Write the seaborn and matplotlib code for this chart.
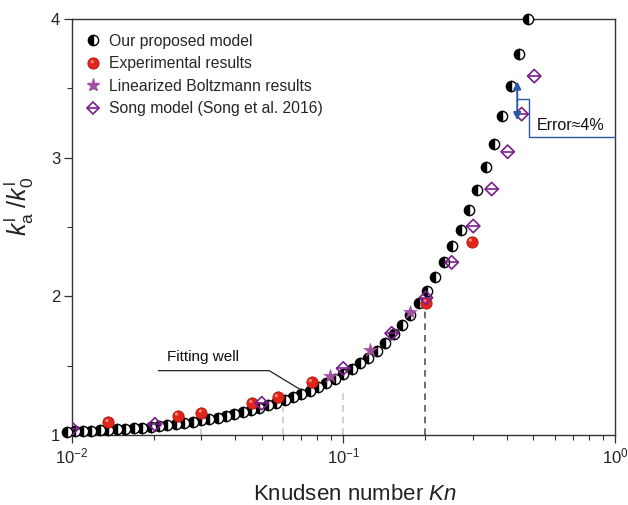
import numpy as np
import pandas as pd
import matplotlib
matplotlib.use("Agg")
import matplotlib.pyplot as plt
import seaborn as sns
from matplotlib.lines import Line2D
from matplotlib.path import Path
from matplotlib.legend_handler import HandlerTuple
from matplotlib.ticker import LogLocator, MultipleLocator, NullFormatter

# ---------------- data ----------------
model_kn = [0.0096, 0.0103, 0.0110, 0.0118, 0.0127, 0.0136, 0.0147, 0.0157, 0.0169, 0.0181,
            0.0195, 0.0209, 0.0224, 0.0241, 0.0259, 0.0278, 0.0298, 0.0320, 0.0344, 0.0369,
            0.0396, 0.0425, 0.0457, 0.0490, 0.0526, 0.0565, 0.0607, 0.0652, 0.0700, 0.0751,
            0.0806, 0.0866, 0.0930, 0.0998, 0.1072, 0.1151, 0.1235, 0.1327, 0.1424, 0.1529,
            0.1642, 0.1763, 0.1892, 0.2032, 0.2182, 0.2343, 0.2515, 0.2700, 0.2900, 0.3113,
            0.3342, 0.3588, 0.3852, 0.4136, 0.4441, 0.4768]
model_val = [1.025, 1.027, 1.029, 1.031, 1.034, 1.037, 1.040, 1.044, 1.048, 1.053,
             1.058, 1.064, 1.071, 1.078, 1.086, 1.095, 1.105, 1.115, 1.126, 1.138,
             1.151, 1.165, 1.180, 1.196, 1.213, 1.232, 1.252, 1.273, 1.296, 1.320,
             1.345, 1.372, 1.405, 1.440, 1.478, 1.517, 1.556, 1.606, 1.662, 1.730,
             1.795, 1.863, 1.953, 2.040, 2.140, 2.250, 2.360, 2.480, 2.620, 2.770,
             2.930, 3.100, 3.300, 3.520, 3.750, 4.000]

exp_kn = [0.0136, 0.0245, 0.0300, 0.0461, 0.0572, 0.0763, 0.2013, 0.2966]
exp_val = [1.092, 1.139, 1.161, 1.229, 1.272, 1.380, 1.954, 2.394]

lb_kn = [0.0892, 0.1252, 0.1758]
lb_val = [1.428, 1.613, 1.885]

song_kn = [0.0100, 0.0202, 0.0500, 0.0998, 0.1505, 0.2013, 0.2504, 0.3007, 0.3515, 0.4025, 0.4533, 0.5044]
song_val = [1.046, 1.077, 1.229, 1.480, 1.733, 1.990, 2.245, 2.507, 2.774, 3.043, 3.314, 3.588]

guide_kn = [0.03, 0.06, 0.1, 0.2]
guide_top = [1.08, 1.20, 1.34, 1.90]

labels = ["Our proposed model", "Experimental results",
          "Linearized Boltzmann results", "Song model (Song et al. 2016)"]

# ---------------- style ----------------
sns.set_theme(style="ticks")
plt.rcParams["font.family"] = ["Liberation Sans", "DejaVu Sans"]
plt.rcParams["mathtext.fontset"] = "custom"
plt.rcParams["mathtext.rm"] = "Liberation Sans"
plt.rcParams["mathtext.it"] = "Liberation Sans:italic"
plt.rcParams["mathtext.sf"] = "Liberation Sans"

dark = "#333333"
red = "#e0261c"
red_edge = "#b3140e"
star_c = "#a24ea2"
song_c = "#7a1f8c"
blue = "#2a58a8"

fig = plt.figure(figsize=(6.28, 5.05), dpi=100)
ax = fig.add_axes([0.1146, 0.1386, 0.8646, 0.8238])

# guide lines
for kx, top in zip(guide_kn, guide_top):
    col = "#555555" if kx == 0.2 else "#c8c8c8"
    ax.plot([kx, kx], [1.0, top], ls=(0, (4, 3)), color=col, lw=1.2, zorder=1)

# proposed model: half-filled circles
df_m = pd.DataFrame({"Kn": model_kn, "val": model_val})
sns.lineplot(data=df_m, x="Kn", y="val", ax=ax, estimator=None, sort=False,
             ls="", marker="o", markersize=7.4, fillstyle="left",
             markerfacecolor="black", markerfacecoloralt="white",
             markeredgecolor="black", markeredgewidth=1.0,
             clip_on=False, zorder=5, legend=False)

# highlight marker for "sphere" look
hl_verts = [(-1, -1), (1, 1)]
hl_codes = [Path.MOVETO, Path.MOVETO]
circ = Path.circle(center=(-0.22, 0.3), radius=0.28)
hl_path = Path(hl_verts + list(circ.vertices), hl_codes + list(circ.codes))

df_e = pd.DataFrame({"Kn": exp_kn, "val": exp_val})
sns.scatterplot(data=df_e, x="Kn", y="val", ax=ax, marker="o", s=66,
                color=red, edgecolor=red_edge, linewidth=0.6, zorder=6, legend=False)
sns.scatterplot(data=df_e, x="Kn", y="val", ax=ax, marker=hl_path, s=66,
                color="#ff9c90", edgecolor="none", linewidth=0, alpha=0.85, zorder=6.1,
                legend=False)

df_l = pd.DataFrame({"Kn": lb_kn, "val": lb_val})
sns.scatterplot(data=df_l, x="Kn", y="val", ax=ax, marker="*", s=110,
                color=star_c, edgecolor=star_c, linewidth=0.3, zorder=7, legend=False)

df_s = pd.DataFrame({"Kn": song_kn, "val": song_val})
sns.scatterplot(data=df_s, x="Kn", y="val", ax=ax, marker="D", s=46,
                facecolor="none", edgecolor=song_c, linewidth=1.2, zorder=8, legend=False)
sns.scatterplot(data=df_s, x="Kn", y="val", ax=ax, marker="_", s=88,
                color=song_c, linewidth=1.2, zorder=8, legend=False)

# axes
ax.set_xscale("log")
ax.set_xlim(0.01, 1.0)
ax.set_ylim(1.0, 4.0)
ax.xaxis.set_major_locator(LogLocator(base=10, numticks=5))
ax.xaxis.set_minor_locator(LogLocator(base=10, subs=np.arange(2, 10), numticks=20))
ax.xaxis.set_minor_formatter(NullFormatter())
ax.yaxis.set_major_locator(MultipleLocator(1))
ax.yaxis.set_minor_locator(MultipleLocator(0.5))
ax.tick_params(axis="both", which="major", direction="out", length=5.5, width=0.9,
               color=dark, labelsize=12, labelcolor="#222222", pad=3)
ax.tick_params(axis="both", which="minor", direction="out", length=3.5, width=0.8, color=dark)
for sp in ax.spines.values():
    sp.set_visible(True)
    sp.set_color(dark)
    sp.set_linewidth(1.0)

ax.set_xlabel(r"Knudsen number $\it{Kn}$", fontsize=16, color="#222222")
ax.xaxis.set_label_coords(0.521, -0.117)
ax.set_ylabel(r"$k_{\rm a}^{\rm l}\;/k_{0}^{\rm l}$", fontsize=18, color="#222222")
ax.yaxis.set_label_coords(-0.066, 0.55)

# annotations
ax.plot([0.0208, 0.0533, 0.0692], [1.464, 1.464, 1.329], color="#222222", lw=0.9, zorder=9)
ax.text(0.0223, 1.562, "Fitting well", fontsize=11, color="#111111", ha="left", va="center")

ax.annotate("", xy=(0.4367, 3.27), xytext=(0.4367, 3.55),
            arrowprops=dict(arrowstyle="<|-|>", color=blue, lw=1.4,
                            mutation_scale=11, shrinkA=0, shrinkB=0), zorder=10)
ax.plot([0.4367, 0.4833, 0.4833, 1.0], [3.4225, 3.4225, 3.151, 3.151],
        color=blue, lw=1.0, zorder=9, clip_on=False)
ax.text(0.515, 3.235, "Error\u22484%", fontsize=11.5, color="#111111", ha="left", va="center")

# legend
h_model = Line2D([], [], ls="", marker="o", markersize=7.4, fillstyle="left",
                 markerfacecolor="black", markerfacecoloralt="white",
                 markeredgecolor="black", markeredgewidth=1.0)
h_exp = (Line2D([], [], ls="", marker="o", markersize=8.1, color=red,
                markeredgecolor=red_edge, markeredgewidth=0.6),
         Line2D([], [], ls="", marker=hl_path, markersize=8.1, color="#ff9c90",
                markeredgecolor="none", alpha=0.85))
h_lb = Line2D([], [], ls="", marker="*", markersize=9.5, color=star_c)
h_song = (Line2D([], [], ls="", marker="D", markersize=6.6, markerfacecolor="none",
                 markeredgecolor=song_c, markeredgewidth=1.2),
          Line2D([], [], ls="", marker="_", markersize=9.2, color=song_c,
                 markeredgewidth=1.2))
ax.legend([h_model, h_exp, h_lb, h_song], labels, loc="upper left",
          bbox_to_anchor=(-0.002, 0.998), frameon=False, fontsize=11.3,
          handlelength=1.0, handletextpad=0.55, labelspacing=0.47,
          handler_map={tuple: HandlerTuple(ndivide=1, pad=0)})

fig.savefig("out.png", dpi=100)
